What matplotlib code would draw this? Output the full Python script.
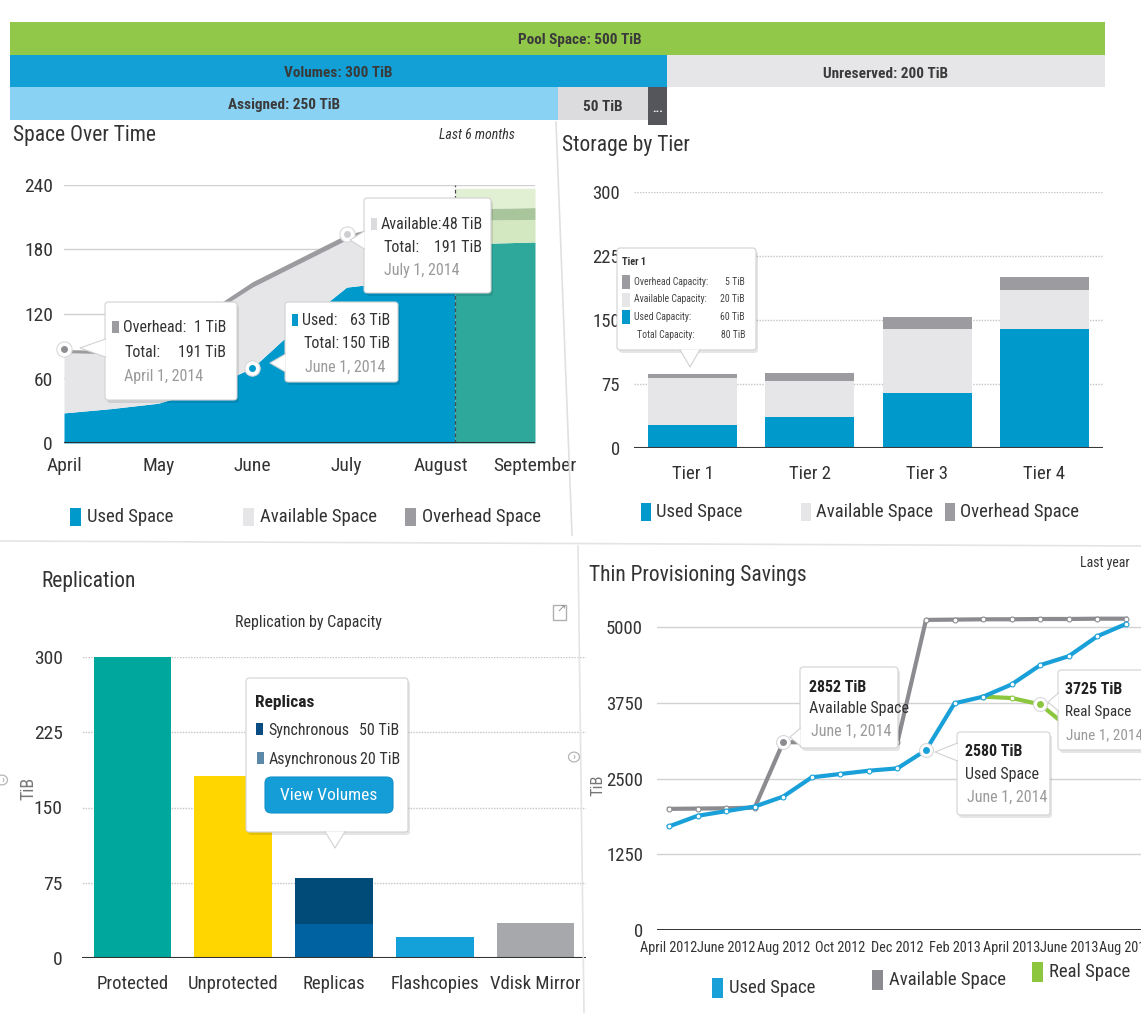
import matplotlib
matplotlib.use("Agg")
import matplotlib.pyplot as plt
from matplotlib.patches import Rectangle, FancyBboxPatch, Polygon, Circle
from matplotlib.lines import Line2D

plt.rcParams['font.family'] = ['Roboto Condensed', 'Archivo Narrow', 'Barlow Semi Condensed',
                               'Liberation Sans', 'DejaVu Sans']

# ---------------- data ----------------
pool_total = 500
volumes = 300
unreserved = 200
assigned = 250
unassigned = 50

sot_months = ['April', 'May', 'June', 'July', 'August', 'September']
sot_t = [0, 0.5, 1.0, 1.5, 2.0, 2.5, 3.0, 3.5, 4.0, 4.15]
sot_used = [28, 32, 37, 50, 70, 110, 145, 150, 150, 150]
sot_available = [56, 51, 60, 67, 75, 57, 44, 49, 57, 60]
sot_overhead = [3, 3, 3, 4, 5, 5, 5, 5, 5, 5]
fc_t = [4.15, 5.0]
fc_used = [185, 187]
fc_available = [22, 21]
fc_overhead = [11, 11]
fc_reserve = [19, 18]

tiers = ['Tier 1', 'Tier 2', 'Tier 3', 'Tier 4']
tier_used = [27, 36, 64, 139]
tier_available = [55, 43, 76, 46]
tier_overhead = [5, 9, 14, 15]

rep_cats = ['Protected', 'Unprotected', 'Replicas', 'Flashcopies', 'Vdisk Mirror']
rep_base = [300, 181, 34, 21, 35]
rep_sync = [0, 0, 46, 0, 0]

thin_labels = ['April 2012', 'June 2012', 'Aug 2012', 'Oct 2012', 'Dec 2012',
               'Feb 2013', 'April 2013', 'June 2013', 'Aug 2013']
thin_used = [1710, 1885, 1962, 2038, 2203, 2521, 2576, 2630, 2669, 2970,
             3743, 3852, 4055, 4373, 4521, 4850, 5052]
thin_available = [2000, 2005, 2010, 2020, 3100, 3100, 3100, 3100, 3100, 5120,
                  5125, 5130, 5130, 5135, 5135, 5140, 5140]
thin_real_idx = [11, 12, 13, 14]
thin_real = [3852, 3830, 3725, 3340]

# ---------------- helpers ----------------
W, H = 1141, 1013
fig = plt.figure(figsize=(W / 100, H / 100), dpi=100)
fig.patch.set_facecolor('white')

BLUE = '#0099cc'
LGRAY = '#e6e6e8'
DGRAY = '#9c9ca0'
TXT = '#333333'


def fx(x):
    return x / W


def fy(y):
    return 1 - y / H


def ax_px(x0, y0, x1, y1):
    return fig.add_axes([fx(x0), fy(y1), (x1 - x0) / W, (y1 - y0) / H])


def T(x, y, s, size=11, color=TXT, ha='left', va='center', weight='normal',
      style='normal', rot=0, z=8):
    fig.text(fx(x), fy(y), s, fontsize=size, color=color, ha=ha, va=va,
             fontweight=weight, fontstyle=style, rotation=rot, zorder=z)


def frect(x0, y0, x1, y1, fc, ec='none', lw=0, z=6):
    fig.patches.append(Rectangle((fx(x0), fy(y1)), (x1 - x0) / W, (y1 - y0) / H,
                                 transform=fig.transFigure, fc=fc, ec=ec, lw=lw,
                                 zorder=z))


def fline(xs, ys, color='#dddddd', lw=1, z=2, ls='-'):
    fig.add_artist(Line2D([fx(x) for x in xs], [fy(y) for y in ys],
                          color=color, lw=lw, zorder=z, ls=ls))


def tooltip(x0, y0, x1, y1, tip=None, side='left', z=6):
    fig.patches.append(FancyBboxPatch((fx(x0 + 2), fy(y1 + 3)), (x1 - x0) / W,
                                      (y1 - y0) / H,
                                      boxstyle='round,pad=0,rounding_size=0.003',
                                      fc='black', alpha=0.10, ec='none',
                                      transform=fig.transFigure, zorder=z))
    fig.patches.append(FancyBboxPatch((fx(x0), fy(y1)), (x1 - x0) / W,
                                      (y1 - y0) / H,
                                      boxstyle='round,pad=0,rounding_size=0.003',
                                      fc='white', ec='#d2d2d2', lw=0.8,
                                      transform=fig.transFigure, zorder=z + 0.1))
    if tip is not None:
        tx, ty = tip
        if side == 'left':
            b1, b2 = (x0 + 0.5, ty - 9), (x0 + 0.5, ty + 9)
        else:
            b1, b2 = (tx - 10, y1 - 0.5), (tx + 10, y1 - 0.5)
        fig.patches.append(Polygon([[fx(b1[0]), fy(b1[1])], [fx(tx), fy(ty)],
                                    [fx(b2[0]), fy(b2[1])]], closed=True,
                                   transform=fig.transFigure, fc='white',
                                   ec='none', zorder=z + 0.2))
        fline([b1[0], tx, b2[0]], [b1[1], ty, b2[1]], color='#d2d2d2', lw=0.8,
              z=z + 0.3)


def clean(ax):
    for s in ax.spines.values():
        s.set_visible(False)
    ax.tick_params(length=0, colors=TXT)
    ax.set_facecolor('none')


# ---------------- banner ----------------
bx = ax_px(10, 22, 1105, 120)
clean(bx)
bx.set_xlim(0, pool_total)
bx.set_ylim(3, 0)
bx.set_xticks([])
bx.set_yticks([])
bx.barh(0.5, pool_total, height=1, left=0, color='#92c84a', align='center')
bx.barh(1.5, volumes, height=1, left=0, color='#12a0d6', align='center')
bx.barh(1.5, unreserved, height=1, left=volumes, color='#e6e6e8', align='center')
bx.barh(2.5, assigned, height=1, left=0, color='#8ad2f4', align='center')
bx.barh(2.5, unassigned, height=1, left=assigned, color='#dcdcde', align='center')
btn_w = 8.5
bx.add_patch(Rectangle((volumes - btn_w, 2.0), btn_w, 1.15, fc='#55565b',
                       ec='none', clip_on=False, zorder=4))
bx.text(volumes - btn_w / 2, 2.65, '...', color='white', ha='center', va='center',
        fontsize=9, fontweight='bold', zorder=5)
bkw = dict(ha='center', va='center', fontsize=11, color='#3a3a3a',
           fontweight='bold')
bx.text(pool_total / 2 + 10, 0.55, f'Pool Space: {pool_total} TiB', **bkw)
bx.text(volumes / 2, 1.55, f'Volumes: {volumes} TiB', **bkw)
bx.text(volumes + unreserved / 2, 1.6, f'Unreserved: {unreserved} TiB', **bkw)
bx.text(assigned / 2, 2.55, f'Assigned: {assigned} TiB', **bkw)
bx.text(assigned + (unassigned - btn_w) / 2, 2.6, f'{unassigned} TiB', **bkw)

# separators
fline([556, 572], [122, 535], color='#e0e0e0', lw=1.2)
fline([0, 1141], [541, 546], color='#e4e4e4', lw=1.2)
fline([578, 584], [546, 1013], color='#e4e4e4', lw=1.2)

# ---------------- Space Over Time ----------------
T(13, 136, 'Space Over Time', size=15.5)
T(515, 135, 'Last 6 months', size=10, ha='right', style='italic')
a1 = ax_px(64, 185, 535, 443)
clean(a1)
a1.set_xlim(0, 5)
a1.set_ylim(0, 240)
for v in [60, 120, 180, 240]:
    a1.axhline(v, color='#d0d0d0', lw=1, zorder=0, xmin=-0.02)
top_av = [u + a for u, a in zip(sot_used, sot_available)]
top_all = [x + o for x, o in zip(top_av, sot_overhead)]
a1.fill_between(sot_t, 0, sot_used, color=BLUE, lw=0, zorder=2)
a1.fill_between(sot_t, sot_used, top_av, color=LGRAY, lw=0, zorder=2)
a1.fill_between(sot_t, top_av, top_all, color=DGRAY, lw=0, zorder=2)
f1 = fc_used
f2 = [a + b for a, b in zip(f1, fc_available)]
f3 = [a + b for a, b in zip(f2, fc_overhead)]
f4 = [a + b for a, b in zip(f3, fc_reserve)]
a1.fill_between(fc_t, 0, f1, color='#2ea89b', lw=0, zorder=2)
a1.fill_between(fc_t, f1, f2, color='#d3e8c0', lw=0, zorder=2)
a1.fill_between(fc_t, f2, f3, color='#a9c59c', lw=0, zorder=2)
a1.fill_between(fc_t, f3, f4, color='#e1efd3', lw=0, zorder=2)
a1.plot([fc_t[0], fc_t[0]], [0, 240], ls=(0, (3, 2)), color='#4a4a4a', lw=0.9,
        zorder=3)
a1.axhline(0, color='#2f2f2f', lw=1.5, zorder=4)
a1.set_xticks(range(len(sot_months)))
a1.set_xticklabels(sot_months, fontsize=14)
a1.set_yticks([0, 60, 120, 180, 240])
a1.set_yticklabels(['0', '60', '120', '180', '240'], fontsize=14)
a1.tick_params(axis='x', pad=10)
a1.tick_params(axis='y', pad=8)
for (xi, yi, c) in [(sot_t[0], top_all[0], '#8e8e92'),
                    (sot_t[4], sot_used[4], BLUE),
                    (sot_t[6], top_all[6], '#cfcfd2')]:
    a1.plot(xi, yi, 'o', ms=11, mfc='white', mec='#d8d8d8', mew=0.8, zorder=6,
            clip_on=False)
    a1.plot(xi, yi, 'o', ms=5, mfc=c, mec='none', zorder=7, clip_on=False)

TT = 11.5
tooltip(105, 302, 237, 400, tip=(80, 348))
frect(112, 321, 119, 333, DGRAY, z=8)
T(123, 327, 'Overhead:', TT)
T(226, 327, '1 TiB', TT, ha='right')
T(124, 352, 'Total:', TT)
T(226, 352, '191 TiB', TT, ha='right')
T(124, 377, 'April 1, 2014', TT, color='#9a9a9a')

tooltip(285, 302, 398, 382, tip=(270, 363))
frect(292, 314, 298, 326, BLUE, z=8)
T(302, 320, 'Used:', TT)
T(390, 320, '63 TiB', TT, ha='right')
T(303, 344, 'Total:', TT)
T(390, 344, '150 TiB', TT, ha='right')
T(305, 367, 'June 1, 2014', TT, color='#9a9a9a')

tooltip(364, 198, 491, 293, tip=(350, 240))
frect(371, 218, 377, 230, '#dcdcde', z=8)
T(381, 224, 'Available:', TT)
T(482, 224, '48 TiB', TT, ha='right')
T(383, 247, 'Total:', TT)
T(482, 247, '191 TiB', TT, ha='right')
T(384, 270, 'July 1, 2014', TT, color='#9a9a9a')

for (x, c, s) in [(70, BLUE, 'Used Space'), (243, LGRAY, 'Available Space'),
                  (405, DGRAY, 'Overhead Space')]:
    frect(x, 508, x + 11, 526, c, z=3)
    T(x + 17, 517, s, 13.5)

# ---------------- Storage by Tier ----------------
T(562, 145, 'Storage by Tier', size=15.5)
a2 = ax_px(634, 192, 1103, 448)
clean(a2)
a2.set_xlim(-0.5, 3.5)
a2.set_ylim(0, 300)
for v in [75, 150, 225, 300]:
    a2.axhline(v, color='#c4c4c4', lw=1, ls=(0, (1, 1)), zorder=0)
xs = list(range(len(tiers)))
bw = 0.76
a2.bar(xs, tier_used, width=bw, color=BLUE, zorder=2)
b2 = [u + a for u, a in zip(tier_used, tier_available)]
a2.bar(xs, tier_available, bottom=tier_used, width=bw, color=LGRAY, zorder=2)
a2.bar(xs, tier_overhead, bottom=b2, width=bw, color=DGRAY, zorder=2)
a2.axhline(0, color='#3a3a3a', lw=1.5, zorder=3)
a2.set_xticks(xs)
a2.set_xticklabels(tiers, fontsize=13.5)
a2.set_yticks([0, 75, 150, 225, 300])
a2.set_yticklabels(['0', '75', '150', '225', '300'], fontsize=13.5)
a2.tick_params(axis='x', pad=12)
a2.tick_params(axis='y', pad=10)

tooltip(617, 248, 756, 350, tip=(690, 367), side='bottom')
T(622, 262, 'Tier 1', 7.5, weight='bold')
rows = [(DGRAY, 'Overhead Capacity:', '5 TiB'), (LGRAY, 'Available Capacity:', '20 TiB'),
        (BLUE, 'Used Capacity:', '60 TiB'), (None, 'Total Capacity:', '80 TiB')]
for i, (c, lab, val) in enumerate(rows):
    yy = 282 + i * 17.5
    if c is not None:
        frect(622, yy - 7, 630, yy + 7, c, z=8)
    T(634 + (3 if c is None else 0), yy, lab, 7, color='#444444')
    T(745, yy, val, 7, color='#444444', ha='right')

for (x, c, s) in [(641, BLUE, 'Used Space'), (801, LGRAY, 'Available Space'),
                  (945, DGRAY, 'Overhead Space')]:
    frect(x, 503, x + 10, 521, c, z=3)
    T(x + 15, 512, s, 13.5)

# ---------------- Replication ----------------
T(41, 582, 'Replication', size=15.5)
T(308, 623, 'Replication by Capacity', size=11.5, ha='center')
a3 = ax_px(82, 657, 586, 958)
clean(a3)
a3.set_xlim(-0.5, 4.5)
a3.set_ylim(0, 300)
for v in [75, 150, 225, 300]:
    a3.axhline(v, color='#c4c4c4', lw=1, ls=(0, (1, 1)), zorder=0, xmin=-0.015)
rx = list(range(len(rep_cats)))
rcol = ['#00a79d', '#ffd600', '#0062a0', '#14a1da', '#a6a8ab']
a3.bar(rx, rep_base, width=0.77, color=rcol, zorder=2)
a3.bar(rx, rep_sync, bottom=rep_base, width=0.77, color='#004b78', zorder=2)
a3.axhline(0, color='#333333', lw=1.5, zorder=3)
a3.set_xticks(rx)
a3.set_xticklabels(rep_cats, fontsize=13.5)
a3.set_yticks([0, 75, 150, 225, 300])
a3.set_yticklabels(['0', '75', '150', '225', '300'], fontsize=14)
a3.tick_params(axis='x', pad=12)
a3.tick_params(axis='y', pad=14)
T(28, 788, 'TiB', 13, color='#777777', rot=90, ha='center')

tooltip(246, 678, 408, 832, tip=(335, 848), side='bottom')
T(255, 703, 'Replicas', 12.5, weight='bold', color='#222222')
frect(256, 723, 263, 735, '#0a4d85', z=8)
T(268, 730, 'Synchronous', TT)
T(399, 730, '50 TiB', TT, ha='right')
frect(257, 752, 264, 764, '#5d89a8', z=8)
T(269, 759, 'Asynchronous', TT)
T(400, 759, '20 TiB', TT, ha='right')
fig.patches.append(FancyBboxPatch((fx(265), fy(813)), 128 / W, 36 / H,
                                  boxstyle='round,pad=0,rounding_size=0.006',
                                  fc='#159dd8', ec='#1290c8', lw=0.8,
                                  transform=fig.transFigure, zorder=8))
T(329, 795, 'View Volumes', 12.5, color='white', ha='center', z=9)

# small icons
frect(553, 605, 566, 620, 'white', ec='#b0b0b0', lw=1, z=3)
T(561, 610, '↗', 8, color='#909090', ha='center', z=4, va='center')
for (cx, cy) in [(574, 757), (2, 780)]:
    fig.patches.append(Circle((fx(cx), fy(cy)), 5.5 / W, transform=fig.transFigure,
                              fc='white', ec='#b5b5b5', lw=0.9, zorder=3))
    T(cx + 0.5, cy, '›', 8, color='#999999', ha='center', z=4)

# ---------------- Thin Provisioning Savings ----------------
T(589, 575, 'Thin Provisioning Savings', size=15.5)
T(1130, 563, 'Last year', size=10, ha='right')
a4 = ax_px(657, 609, 1141, 930)
clean(a4)
a4.set_xlim(-0.42, 16.53)
a4.set_ylim(0, 5300)
for v in [1250, 2500, 3750, 5000]:
    a4.axhline(v, color='#d2d2d2', lw=1, zorder=0)
a4.axhline(0, color='#333333', lw=1.4, zorder=1)
ti = list(range(len(thin_used)))
a4.plot(ti, thin_available, color='#8c8c90', lw=3, marker='o', ms=3.5,
        mfc='white', mec='#8c8c90', mew=0.8, zorder=3)
a4.plot(thin_real_idx, thin_real, color='#8cc63f', lw=3, marker='o', ms=3.5,
        mfc='white', mec='#8cc63f', mew=0.8, zorder=3.5)
a4.plot(ti, thin_used, color='#1aa0d8', lw=3, marker='o', ms=3.5,
        mfc='white', mec='#1aa0d8', mew=0.8, zorder=4)
for (xi, yi, c) in [(4, thin_available[4], '#8c8c90'), (9, thin_used[9], '#1aa0d8'),
                    (13, thin_real[2], '#8cc63f')]:
    a4.plot(xi, yi, 'o', ms=10, mfc='white', mec='#d8d8d8', mew=0.8, zorder=6)
    a4.plot(xi, yi, 'o', ms=5, mfc=c, mec='none', zorder=7)
a4.set_xticks(list(range(0, 17, 2)))
a4.set_xticklabels(thin_labels, fontsize=10.3)
a4.set_yticks([0, 1250, 2500, 3750, 5000])
a4.set_yticklabels(['0', '1250', '2500', '3750', '5000'], fontsize=13.5)
a4.tick_params(axis='x', pad=8)
a4.tick_params(axis='y', pad=10)
T(598, 785, 'TiB', 12, color='#777777', rot=90, ha='center')

tooltip(800, 667, 898, 748, tip=(790, 737))
T(809, 687, '2852 TiB', 11.5, weight='bold', color='#222222')
T(809, 709, 'Available Space', TT)
T(811, 731, 'June 1, 2014', TT, color='#9a9a9a')

tooltip(957, 732, 1050, 815, tip=(935, 752))
T(965, 751, '2580 TiB', 11.5, weight='bold', color='#222222')
T(965, 774, 'Used Space', TT)
T(967, 797, 'June 1, 2014', TT, color='#9a9a9a')

tooltip(1058, 670, 1150, 750, tip=(1048, 702))
T(1065, 689, '3725 TiB', 11.5, weight='bold', color='#222222')
T(1065, 712, 'Real Space', 11)
T(1066, 735, 'June 1, 2014', 11, color='#9a9a9a')

for (x, y, c, s) in [(712, 988, '#1aa0d8', 'Used Space'),
                     (872, 980, '#8c8c90', 'Available Space'),
                     (1032, 972, '#8cc63f', 'Real Space')]:
    frect(x, y - 10, x + 11, y + 10, c, z=3)
    T(x + 17, y, s, 13.5)

fig.savefig('out.png', dpi=100, facecolor='white')
